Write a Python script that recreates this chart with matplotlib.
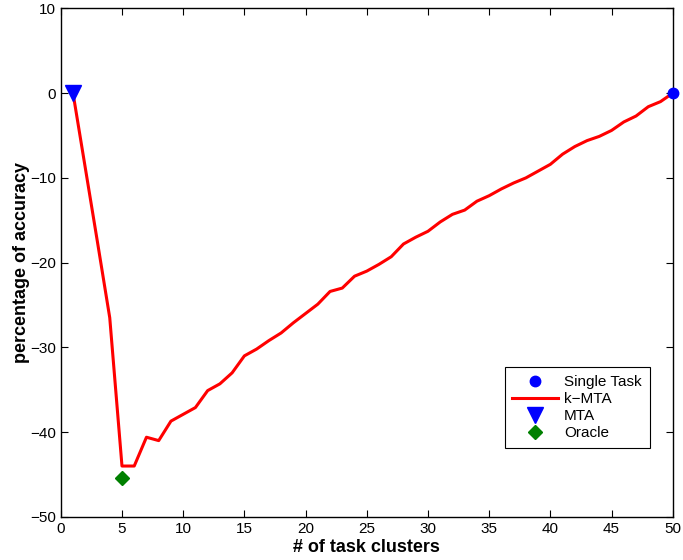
import matplotlib.pyplot as plt

plt.rcParams['font.family'] = ['Liberation Sans', 'DejaVu Sans']

# data
clusters = list(range(1, 51))
kmta_acc = [0.0, -8.8, -17.6, -26.5, -44.0, -44.0, -40.6, -41.0, -38.7, -37.9,
            -37.1, -35.1, -34.3, -33.0, -31.0, -30.2, -29.2, -28.3, -27.1, -26.0,
            -24.9, -23.4, -23.0, -21.6, -21.0, -20.2, -19.3, -17.8, -17.0, -16.3,
            -15.2, -14.3, -13.8, -12.75, -12.1, -11.3, -10.6, -10.0, -9.2, -8.4,
            -7.2, -6.3, -5.6, -5.1, -4.4, -3.4, -2.7, -1.6, -1.0, 0.0]
single_x, single_y = [50], [0.0]
mta_x, mta_y = [1], [0.0]
oracle_x, oracle_y = [5], [-45.4]

fig = plt.figure(figsize=(6.83, 5.6), dpi=100)
ax = fig.add_axes([0.089, 0.077, 0.896, 0.908])

ax.plot(single_x, single_y, 'o', color='blue', markersize=7.5, label='Single Task', zorder=4, clip_on=False)
ax.plot(clusters, kmta_acc, '-', color='red', linewidth=2.2, label='k\u2212MTA', zorder=3)
ax.plot(mta_x, mta_y, 'v', color='blue', markersize=11, label='MTA', zorder=4, clip_on=False)
ax.plot(oracle_x, oracle_y, 'D', color='green', markersize=7, label='Oracle', zorder=4)

ax.set_xlim(0, 50)
ax.set_ylim(-50, 10)
ax.set_xticks(range(0, 51, 5))
ax.set_yticks(range(-50, 11, 10))
ax.set_yticklabels([str(v).replace('-', '\u2212') for v in range(-50, 11, 10)])
ax.tick_params(direction='in', top=True, right=True, labelsize=11, length=5, width=0.8)
for s in ax.spines.values():
    s.set_linewidth(1.0)

ax.set_xlabel('# of task clusters', fontweight='bold', fontsize=13, labelpad=2)
ax.set_ylabel('percentage of accuracy', fontweight='bold', fontsize=13, labelpad=0)

leg = ax.legend(loc='lower right', bbox_to_anchor=(0.962, 0.136), borderaxespad=0,
                fontsize=11, fancybox=False, edgecolor='black', framealpha=1,
                borderpad=0.5, handlelength=3, handletextpad=0.4, labelspacing=0.2,
                numpoints=1)
leg.get_frame().set_linewidth(0.8)

fig.savefig('out.png', dpi=100)
